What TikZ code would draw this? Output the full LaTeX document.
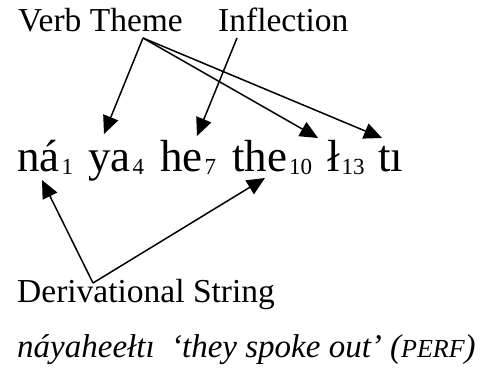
\documentclass[tikz,border=0pt]{standalone}
\usepackage{fontspec}
\setmainfont{Liberation Serif}
\usetikzlibrary{arrows.meta, calc}

\newcommand{\morph}[2]{{\fontsize{45}{50}\selectfont #1}\kern2pt\raisebox{-3pt}{\fontsize{23}{26}\selectfont #2}}

\begin{document}
\begin{tikzpicture}[x=1pt, y=-1pt,
    lbltext/.style={inner sep=0pt, anchor=base west, font=\fontsize{33.5}{40}\selectfont},
    morphbox/.style={inner sep=0pt, anchor=base west},
    arr/.style={-{Triangle[length=18pt, width=16pt]}, line width=1.5pt}]
    \useasboundingbox (0,0) rectangle (488,377);

    % Labels
    \node[lbltext] (vt) at (18,32) {Verb Theme};
    \node[lbltext] (infl) at (218,32) {Inflection};
    \node[lbltext] (der) at (17,302) {Derivational String};

    % Word
    \node[morphbox] (na) at (17,172) {\morph{ná}{1}};
    \node[morphbox] (ya) at (88,172) {\morph{ya}{4}};
    \node[morphbox] (he) at (160,172) {\morph{he}{7}};
    \node[morphbox] (the) at (232,172) {\morph{the}{10}};
    \node[morphbox] (lh) at (327,172) {\morph{ł}{13}};
    \node[morphbox] (ti) at (378,172) {\fontsize{45}{50}\selectfont tı};

    % Gloss
    \node[lbltext, font=\fontsize{33}{40}\selectfont\itshape] (gloss) at (17,357)
        {náyaheełtı\ \ ‘they spoke out’ ({\fontsize{26}{30}\selectfont PERF})};

    % Arrows
    \coordinate (vtfoot) at ([xshift=125pt, yshift=-6pt]vt.base west);
    \coordinate (inflfoot) at ([xshift=19pt, yshift=-6pt]infl.base west);
    \coordinate (dertop) at ([xshift=76pt, yshift=19pt]der.base west);
    \draw[arr] (vtfoot) -- ([xshift=16pt, yshift=38pt]ya.base west);
    \draw[arr] (vtfoot) -- ([xshift=-9pt, yshift=34pt]lh.base west);
    \draw[arr] (vtfoot) -- ([xshift=4pt, yshift=34pt]ti.base west);
    \draw[arr] (inflfoot) -- ([xshift=37pt, yshift=36pt]he.base west);
    \draw[arr] (dertop) -- ([xshift=25pt, yshift=-8pt]na.base west);
    \draw[arr] (dertop) -- ([xshift=33pt, yshift=-6pt]the.base west);
\end{tikzpicture}
\end{document}
